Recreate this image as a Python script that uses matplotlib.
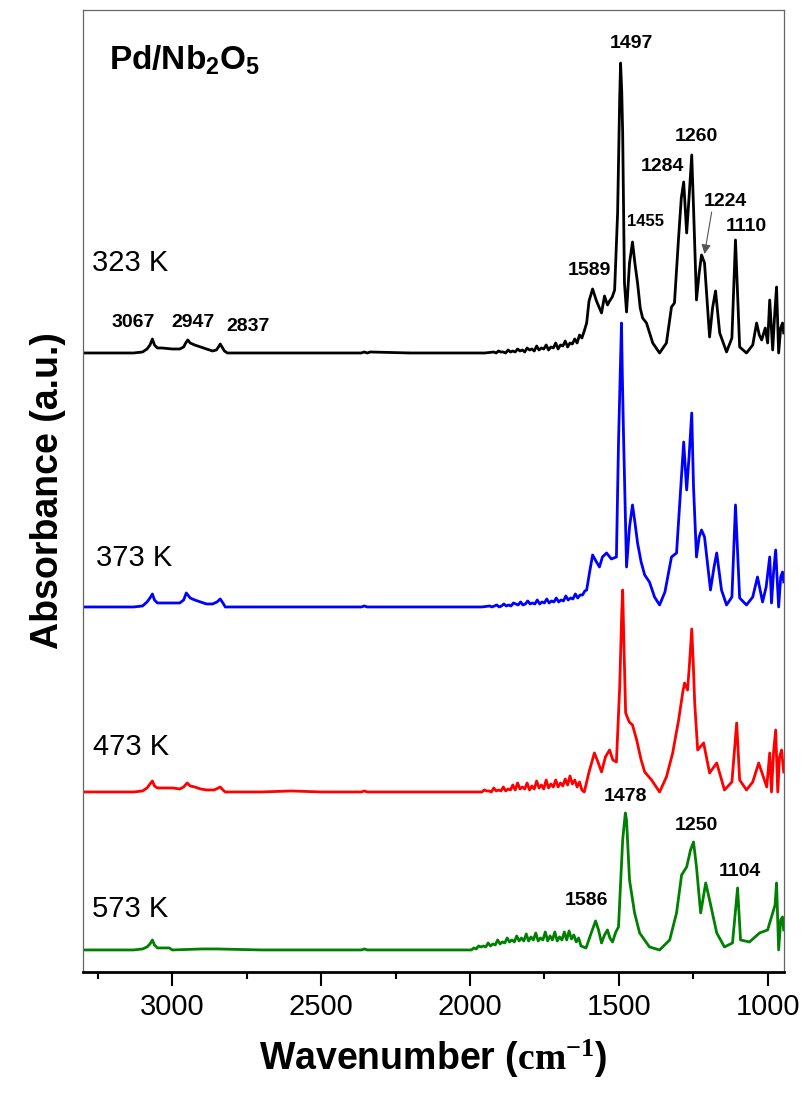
import numpy as np
import matplotlib
matplotlib.use("Agg")
import matplotlib.pyplot as plt

plt.rcParams['font.family'] = ['Liberation Sans', 'DejaVu Sans']
plt.rcParams['mathtext.fontset'] = 'custom'
plt.rcParams['mathtext.rm'] = 'Liberation Serif'
plt.rcParams['mathtext.bf'] = 'Liberation Serif:bold'
plt.rcParams['mathtext.sf'] = 'Liberation Sans:bold'

# ---------------- data ----------------
# 323 K : C-H region, noisy 1950-1615 region, fingerprint region
wn_323 = ([3300, 3130, 3100, 3085, 3075, 3067, 3060, 3050, 3035, 3000, 2975, 2962, 2955, 2948, 2940,
           2925, 2905, 2885, 2865, 2852, 2845, 2839, 2833, 2825, 2815, 2700, 2500, 2365, 2355, 2345,
           2335, 2200, 2000, 1950]
          + [1920, 1912, 1904, 1896, 1888, 1880, 1872, 1864, 1856, 1848, 1840, 1832, 1824, 1816, 1808,
             1800, 1792, 1784, 1776, 1768, 1760, 1752, 1744, 1736, 1728, 1720, 1712, 1704, 1696, 1688,
             1680, 1672, 1664, 1656, 1648, 1640, 1632, 1624, 1616]
          + [1608, 1600, 1588, 1575, 1558, 1548, 1538, 1531, 1522, 1514, 1504, 1497, 1494, 1490, 1487,
             1481, 1474, 1464, 1454, 1446, 1437, 1428, 1420, 1407, 1386, 1363, 1340, 1323, 1313, 1299,
             1290, 1282, 1277, 1272, 1263, 1255, 1249, 1239, 1230, 1222, 1212, 1195, 1185, 1175, 1161,
             1138, 1120, 1108, 1094, 1071, 1050, 1037, 1028, 1020, 1008, 1000, 993, 983, 976, 970,
             963, 956, 950, 946])
ab_323 = ([0, 0, 0.01, 0.04, 0.08, 0.14, 0.08, 0.05, 0.05, 0.04, 0.04, 0.06, 0.10, 0.13, 0.10,
           0.08, 0.06, 0.04, 0.02, 0.03, 0.06, 0.09, 0.06, 0.02, 0, 0, 0, 0, 0.01, 0,
           0.01, 0, 0, 0]
          + [0.01, 0, 0.02, 0.01, 0.01, 0, 0.03, 0.01, 0.02, 0.01, 0.04, 0.02, 0.03, 0.01, 0.05,
             0.03, 0.04, 0.02, 0.07, 0.03, 0.05, 0.04, 0.08, 0.03, 0.06, 0.05, 0.10, 0.04, 0.08, 0.07,
             0.12, 0.06, 0.10, 0.09, 0.14, 0.10, 0.18, 0.15, 0.22]
          + [0.30, 0.52, 0.64, 0.52, 0.40, 0.57, 0.48, 0.52, 0.56, 0.63, 1.40, 2.55, 2.90, 2.60, 2.20,
             0.70, 0.41, 0.90, 1.11, 0.90, 0.70, 0.45, 0.35, 0.30, 0.10, 0, 0.10, 0.46, 0.50, 1.16,
             1.55, 1.71, 1.45, 1.20, 1.60, 1.98, 1.46, 0.53, 0.80, 0.98, 0.90, 0.16, 0.45, 0.62, 0.20,
             0.01, 0.15, 1.13, 0.06, 0, 0.08, 0.30, 0.18, 0.13, 0.25, 0.10, 0.53, 0.03, 0.40, 0.66,
             0, 0.25, 0.30, 0.20])

wn_373 = ([3300, 3130, 3100, 3085, 3075, 3067, 3060, 3050, 3000, 2975, 2962, 2953, 2940, 2925, 2905,
           2885, 2865, 2850, 2839, 2830, 2822, 2700, 2500, 2365, 2355, 2345, 2200, 2000, 1960]
          + [1934, 1926, 1918, 1910, 1902, 1894, 1886, 1878, 1870, 1862, 1854, 1846, 1838, 1830, 1822,
             1814, 1806, 1798, 1790, 1782, 1774, 1766, 1758, 1750, 1742, 1734, 1726, 1718, 1710, 1702,
             1694, 1686, 1678, 1670, 1662, 1654, 1646, 1638, 1630, 1622, 1614]
          + [1608, 1598, 1588, 1575, 1565, 1555, 1541, 1525, 1508, 1501, 1494, 1491, 1488, 1484, 1474,
             1464, 1454, 1446, 1437, 1425, 1413, 1397, 1380, 1363, 1345, 1323, 1306, 1296, 1282, 1272,
             1264, 1255, 1249, 1239, 1230, 1222, 1212, 1192, 1180, 1171, 1155, 1138, 1120, 1108, 1094,
             1071, 1050, 1034, 1017, 1005, 993, 987, 980, 973, 963, 956, 950, 946])
ab_373 = ([0, 0, 0.01, 0.05, 0.09, 0.13, 0.07, 0.04, 0.04, 0.04, 0.07, 0.14, 0.09, 0.07, 0.05,
           0.03, 0.03, 0.05, 0.08, 0.04, 0, 0, 0, 0, 0.01, 0, 0, 0, 0]
          + [0.01, 0, 0.01, 0.02, 0, 0.01, 0.03, 0.01, 0.02, 0.01, 0.04, 0.03, 0.02, 0.05, 0.02,
             0.03, 0.06, 0.03, 0.04, 0.03, 0.07, 0.03, 0.05, 0.04, 0.08, 0.04, 0.06, 0.05, 0.09, 0.05,
             0.07, 0.06, 0.11, 0.07, 0.09, 0.08, 0.13, 0.09, 0.12, 0.12, 0.16]
          + [0.17, 0.35, 0.52, 0.45, 0.40, 0.50, 0.54, 0.48, 0.50, 1.64, 2.50, 2.84, 2.30, 1.70, 0.40,
             0.80, 1.02, 0.85, 0.64, 0.45, 0.32, 0.25, 0.10, 0.02, 0.15, 0.50, 0.54, 1.00, 1.65, 1.17,
             1.50, 1.94, 1.20, 0.50, 0.70, 0.77, 0.70, 0.17, 0.40, 0.54, 0.17, 0.02, 0.10, 1.02, 0.09,
             0.02, 0.10, 0.30, 0.05, 0.20, 0.50, 0.04, 0.35, 0.57, 0, 0.30, 0.35, 0.25])

wn_473 = ([3300, 3130, 3100, 3085, 3075, 3067, 3060, 3050, 3000, 2975, 2962, 2950, 2940, 2925, 2905,
           2885, 2860, 2845, 2839, 2830, 2822, 2700, 2600, 2500, 2365, 2355, 2345, 2200, 2000, 1968]
          + [1960, 1952, 1944, 1936, 1928, 1920, 1912, 1904, 1896, 1888, 1880, 1872, 1864, 1856, 1848,
             1840, 1832, 1824, 1816, 1808, 1800, 1792, 1784, 1776, 1768, 1760, 1752, 1744, 1736, 1728,
             1720, 1712, 1704, 1696, 1688, 1680, 1672, 1664, 1656, 1648, 1640, 1632, 1624, 1616, 1608]
          + [1600, 1582, 1570, 1558, 1545, 1531, 1520, 1508, 1497, 1490, 1487, 1483, 1477, 1465, 1454,
             1440, 1425, 1413, 1390, 1363, 1340, 1319, 1299, 1285, 1279, 1269, 1262, 1255, 1250, 1245,
             1235, 1215, 1195, 1171, 1145, 1120, 1104, 1094, 1071, 1050, 1030, 1003, 993, 987, 980,
             973, 966, 960, 953, 946])
ab_473 = ([0, 0, 0.01, 0.04, 0.08, 0.11, 0.06, 0.04, 0.04, 0.03, 0.05, 0.09, 0.06, 0.05, 0.03,
           0.02, 0.02, 0.04, 0.05, 0.02, 0, 0, 0.01, 0, 0, 0.01, 0, 0, 0, 0]
          + [0, 0.02, 0.01, 0.01, 0, 0.04, 0.01, 0.02, 0.01, 0.05, 0.01, 0.03, 0.02, 0.07, 0.02,
             0.09, 0.03, 0.05, 0.03, 0.09, 0.02, 0.06, 0.03, 0.11, 0.04, 0.07, 0.03, 0.12, 0.04, 0.08,
             0.05, 0.12, 0.05, 0.09, 0.06, 0.13, 0.07, 0.16, 0.08, 0.12, 0.05, 0.10, 0.02, 0, 0.10]
          + [0.20, 0.39, 0.30, 0.20, 0.35, 0.42, 0.32, 0.30, 1.05, 1.80, 2.02, 1.50, 0.79, 0.70, 0.67,
             0.52, 0.32, 0.20, 0.12, 0, 0.15, 0.39, 0.72, 1.00, 1.09, 1.02, 1.30, 1.63, 1.30, 0.89,
             0.42, 0.49, 0.19, 0.29, 0.02, 0.10, 0.69, 0.12, 0.02, 0.10, 0.29, 0.05, 0.39, 0, 0.40,
             0.62, 0, 0.35, 0.42, 0.20])

wn_573 = ([3300, 3130, 3100, 3085, 3075, 3067, 3060, 3050, 3010, 3000, 2900, 2850, 2700, 2500, 2365,
           2355, 2345, 2200, 2000]
          + [1995, 1987, 1979, 1971, 1963, 1955, 1947, 1939, 1931, 1923, 1915, 1907, 1899, 1891, 1883,
             1875, 1867, 1859, 1851, 1843, 1835, 1827, 1819, 1811, 1803, 1795, 1787, 1779, 1771, 1763,
             1755, 1747, 1739, 1731, 1723, 1715, 1707, 1699, 1691, 1683, 1675, 1667, 1659, 1651, 1643,
             1635, 1627, 1619, 1610]
          + [1595, 1578, 1568, 1558, 1548, 1538, 1530, 1521, 1510, 1501, 1487, 1478, 1474, 1464, 1447,
             1430, 1397, 1363, 1329, 1306, 1289, 1272, 1259, 1249, 1239, 1225, 1208, 1195, 1171, 1145,
             1118, 1101, 1091, 1061, 1027, 1000, 983, 975, 970, 963, 956, 950, 946])
ab_573 = ([0, 0, 0.01, 0.03, 0.06, 0.10, 0.05, 0.02, 0.02, 0, 0.01, 0.01, 0, 0, 0,
           0.01, 0, 0, 0]
          + [0, 0.02, 0.01, 0.04, 0.03, 0.04, 0.03, 0.07, 0.04, 0.06, 0.05, 0.10, 0.06, 0.08, 0.07,
             0.12, 0.08, 0.10, 0.08, 0.14, 0.09, 0.12, 0.09, 0.16, 0.09, 0.13, 0.10, 0.17, 0.09, 0.12,
             0.10, 0.18, 0.09, 0.14, 0.10, 0.18, 0.09, 0.13, 0.10, 0.18, 0.10, 0.19, 0.11, 0.15, 0.08,
             0.12, 0.04, 0.03, 0.02]
          + [0.15, 0.29, 0.20, 0.07, 0.15, 0.20, 0.12, 0.08, 0.18, 0.23, 1.10, 1.37, 1.30, 0.70, 0.37,
             0.17, 0.03, 0, 0.10, 0.37, 0.75, 0.83, 1.00, 1.08, 0.83, 0.37, 0.67, 0.50, 0.17, 0.03,
             0.07, 0.62, 0.10, 0.08, 0.17, 0.20, 0.37, 0.45, 0.67, 0, 0.30, 0.33, 0.20])

temps = ['323 K', '373 K', '473 K', '573 K']
offsets = [6.19, 3.65, 1.80, 0.22]
colors = ['black', '#0000ff', '#ff0000', '#008000']
spectra = [(wn_323, ab_323), (wn_373, ab_373), (wn_473, ab_473), (wn_573, ab_573)]
label_pos = [(3269, 7.01), (3255, 4.06), (3266, 2.17), (3269, 0.55)]

# peak labels: text, wavenumber, height
peaks_top = [('1497', 1457, 9.28), ('1589', 1598, 7.01), ('1284', 1353, 8.05),
             ('1260', 1239, 8.35), ('1224', 1141, 7.70), ('1110', 1071, 7.45),
             ('3067', 3131, 6.49), ('2947', 2929, 6.49), ('2837', 2745, 6.45)]
peaks_bottom = [('1478', 1477, 1.75), ('1250', 1239, 1.46), ('1104', 1094, 1.00),
                ('1586', 1608, 0.71)]

# ---------------- plot ----------------
fig = plt.figure(figsize=(8.06, 10.99), dpi=100)
ax = fig.add_axes([0.103, 0.1156, 0.8697, 0.8753])

for (wn, ab), off, c in zip(spectra, offsets, colors):
    ax.plot(wn, np.array(ab) + off, color=c, lw=2.0)

for t, (x, y) in zip(temps, label_pos):
    ax.text(x, y, t, fontsize=21, ha='left', va='baseline')

for t, x, y in peaks_top + peaks_bottom:
    ax.text(x, y, t, fontsize=14, fontweight='bold', ha='center', va='center')
ax.text(1410, 7.50, '1455', fontsize=12, fontweight='bold', ha='center', va='center')

ax.annotate('', xy=(1212, 7.18), xytext=(1188, 7.60),
            arrowprops=dict(arrowstyle='-|>', color='#555555', lw=0.8,
                            mutation_scale=14, shrinkA=0, shrinkB=0))

ax.text(3212, 9.02, r'$\mathsf{Pd/Nb_2O_5}$', fontsize=24, ha='left', va='baseline')

ax.set_xlim(3300, 945)
ax.set_ylim(0, 9.62)
ax.set_xticks([3000, 2500, 2000, 1500, 1000])
ax.set_xticks([3250, 2750, 2250, 1750, 1250], minor=True)
ax.set_yticks([])
ax.tick_params(axis='x', which='major', direction='out', length=10, width=1.5,
               labelsize=21, pad=5)
ax.tick_params(axis='x', which='minor', direction='out', length=5, width=1.5)

for s in ['top', 'right', 'left']:
    ax.spines[s].set_color('#666666')
    ax.spines[s].set_linewidth(0.9)
ax.spines['bottom'].set_linewidth(2)

ax.set_xlabel('Wavenumber (' + r'$\mathbf{cm^{-1}}$' + ')', fontsize=27,
              fontweight='bold', labelpad=12)
ax.set_ylabel('Absorbance (a.u.)', fontsize=27, fontweight='bold', labelpad=12)

fig.savefig('out.png', dpi=100)
